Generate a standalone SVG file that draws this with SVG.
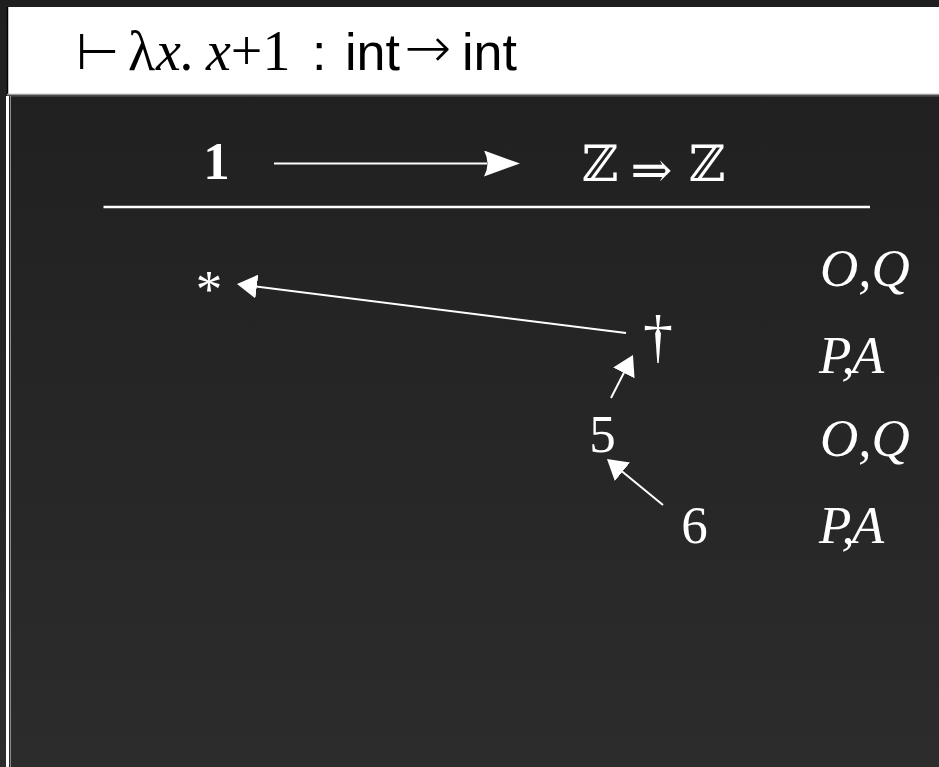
<svg xmlns="http://www.w3.org/2000/svg" width="939" height="767" viewBox="0 0 939 767">
<defs>
<linearGradient id="bg" x1="0" y1="0" x2="0" y2="1">
<stop offset="0" stop-color="#1f1f1f"/>
<stop offset="1" stop-color="#2c2c2c"/>
</linearGradient>
<marker id="tri" markerUnits="userSpaceOnUse" markerWidth="20" markerHeight="24" refX="17" refY="12" orient="auto" viewBox="0 0 20 24">
<path d="M0,0 L20,12 L0,24 z" fill="#ffffff"/>
</marker>
<marker id="big" markerUnits="userSpaceOnUse" markerWidth="36" markerHeight="26" refX="3" refY="13" orient="auto" viewBox="0 0 36 26">
<path d="M0,0 L36,13 L0,26 Q7,13 0,0 z" fill="#ffffff"/>
</marker>
</defs>
<style>
.serif{font-family:"Liberation Serif","Times New Roman",serif;fill:#ffffff}
.it{font-style:italic}
.sans{font-family:"Liberation Sans",Arial,sans-serif;fill:#000000}
.hd{font-family:"Liberation Serif",serif;fill:#000000}
.bb{font-family:"DejaVu Serif",serif;fill:#ffffff}
.lbl{font-size:53px}
.conn{stroke:#ffffff;stroke-width:2;fill:none}
</style>
<rect x="0" y="0" width="939" height="767" fill="url(#bg)"/>
<!-- header -->
<g id="header">
<rect x="7" y="7" width="932" height="88" fill="#ffffff"/>
<line x1="7.5" y1="7" x2="7.5" y2="95" stroke="#000000" stroke-width="1.5"/>
<line x1="7" y1="94.5" x2="939" y2="94.5" stroke="#9a9a9a" stroke-width="1.5"/>
<line x1="7" y1="96" x2="939" y2="96" stroke="#5a5a5a" stroke-width="1"/>
<text x="76" y="69" font-family="DejaVu Sans, sans-serif" font-size="50" fill="#000">⊢</text>
<text x="128" y="70" class="hd" font-size="56">λ</text>
<text x="156" y="70" class="hd it" font-size="56">x.</text>
<text x="206" y="70" class="hd" font-size="56"><tspan font-style="italic">x</tspan>+1</text>
<text x="312" y="70" class="sans" font-size="52">:</text>
<text x="345" y="70" class="sans" font-size="52">int</text>
<text x="428" y="67" font-family="DejaVu Sans, sans-serif" font-weight="200" font-size="56" fill="#000" text-anchor="middle">→</text>
<text x="462" y="70" class="sans" font-size="52">int</text>
</g>
<!-- panel border -->
<g id="panel">
<line x1="7.5" y1="96" x2="7.5" y2="767" stroke="#ffffff" stroke-width="3"/>
<line x1="10.5" y1="96" x2="10.5" y2="767" stroke="#8a8a8a" stroke-width="1"/>
</g>
<!-- top row -->
<g id="n-one"><text x="216.5" y="179" class="serif lbl" font-weight="bold" text-anchor="middle">1</text></g>
<g id="n-zz">
<text x="600" y="181" class="bb" font-size="50" text-anchor="middle">ℤ</text>
<text x="651.5" y="187" class="bb" font-size="50" text-anchor="middle">⇒</text>
<text x="707" y="181" class="bb" font-size="50" text-anchor="middle">ℤ</text>
</g>
<g id="rule"><line x1="103.5" y1="207" x2="870" y2="207" stroke="#ffffff" stroke-width="2.5"/></g>
<!-- moves -->
<g id="n-star"><text x="209" y="307" class="serif lbl" text-anchor="middle">*</text></g>
<g id="n-dagger"><text x="658" y="356" class="serif" font-size="60" text-anchor="middle">†</text></g>
<g id="n-5"><text x="602.5" y="452" class="serif lbl" text-anchor="middle">5</text></g>
<g id="n-6"><text x="694.5" y="543" class="serif lbl" text-anchor="middle">6</text></g>
<!-- labels -->
<g id="l1"><text x="820" y="286" class="serif it lbl">O,Q</text></g>
<g id="l2"><text x="819" y="373" class="serif it lbl" letter-spacing="-3">P,A</text></g>
<g id="l3"><text x="820" y="456" class="serif it lbl">O,Q</text></g>
<g id="l4"><text x="819" y="543" class="serif it lbl" letter-spacing="-3">P,A</text></g>
<!-- connectors -->
<g id="connectors">
<line class="conn" x1="274" y1="163.5" x2="487" y2="163.5" stroke-width="2.5" marker-end="url(#big)"/>
<line class="conn" x1="626" y1="333" x2="240" y2="284.4" marker-end="url(#tri)"/>
<line class="conn" x1="611" y1="398" x2="631.6" y2="357.7" marker-end="url(#tri)"/>
<line class="conn" x1="663" y1="505" x2="609.3" y2="461" marker-end="url(#tri)"/>
</g>
</svg>
